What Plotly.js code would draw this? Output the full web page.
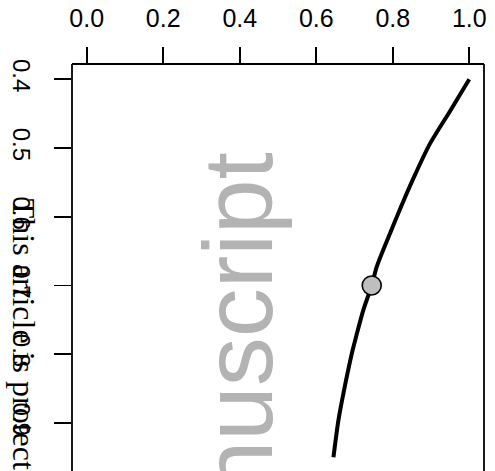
<!DOCTYPE html>
<html>
<head>
<meta charset="utf-8">
<script src="https://cdn.plot.ly/plotly-3.0.1.min.js"></script>
<style>
  html, body { margin: 0; padding: 0; background: #ffffff; }
  #chart { width: 495px; height: 471px; }
</style>
</head>
<body>
<div id="chart"></div>
<script>
// Curve: horizontal value against the (downward-increasing) vertical value
var curveX = [1.0, 0.950, 0.897, 0.859, 0.828, 0.793, 0.758, 0.745, 0.723, 0.704, 0.693, 0.671, 0.658, 0.645];
var curveY = [0.400, 0.446, 0.494, 0.538, 0.577, 0.624, 0.673, 0.700, 0.736, 0.775, 0.799, 0.857, 0.896, 0.950];

// Highlighted point on the curve
var pointX = [0.745];
var pointY = [0.700];

// Axis ticks
var xTickVals = [0.0, 0.2, 0.4, 0.6, 0.8, 1.0];
var xTickText = ['0.0', '0.2', '0.4', '0.6', '0.8', '1.0'];
var yTickVals = [0.4, 0.5, 0.6, 0.7, 0.8, 0.9];
var yTickText = ['0.4', '0.5', '0.6', '0.7', '0.8', '0.9'];

// Page texts
var watermarkText = 'Author Manuscript';
var noticeText = 'This article is protected by copyright. All rights reserved.';

var traces = [
  {
    x: curveX, y: curveY,
    type: 'scatter', mode: 'lines',
    line: { color: '#000000', width: 4, shape: 'spline', smoothing: 0.8 },
    hoverinfo: 'skip'
  },
  {
    x: pointX, y: pointY,
    type: 'scatter', mode: 'markers',
    marker: { size: 19, color: '#bebebe', line: { color: '#000000', width: 1.6 } },
    hoverinfo: 'skip'
  }
];

var frameLine = { color: '#000000', width: 1.8 };

var layout = {
  width: 495, height: 471,
  margin: { l: 72, r: 11, t: 64, b: 0, pad: 0 },
  paper_bgcolor: '#ffffff', plot_bgcolor: '#ffffff',
  showlegend: false,
  xaxis: {
    side: 'top',
    range: [-0.0385, 1.0385],
    tickmode: 'array', tickvals: xTickVals, ticktext: xTickText,
    ticks: 'outside', ticklen: 16, tickwidth: 1.8, tickcolor: '#000000',
    ticklabelstandoff: 10,
    tickfont: { family: 'Liberation Sans, Arial, sans-serif', size: 25, color: '#000000' },
    showgrid: false, zeroline: false, showline: false
  },
  yaxis: {
    range: [0.9701, 0.3777],
    tickmode: 'array', tickvals: yTickVals, ticktext: yTickText,
    tickangle: 90,
    ticks: 'outside', ticklen: 17, tickwidth: 1.8, tickcolor: '#000000',
    ticklabelstandoff: 12,
    tickfont: { family: 'Liberation Sans, Arial, sans-serif', size: 24, color: '#000000' },
    showgrid: false, zeroline: false, showline: false
  },
  shapes: [
    { type: 'line', xref: 'paper', yref: 'paper', x0: 0, x1: 0, y0: 0, y1: 1, line: frameLine },
    { type: 'line', xref: 'paper', yref: 'paper', x0: 0, x1: 1, y0: 1, y1: 1, line: frameLine },
    { type: 'line', xref: 'paper', yref: 'paper', x0: 1, x1: 1, y0: 0, y1: 1, line: frameLine }
  ],
  annotations: [
    {
      text: watermarkText,
      xref: 'x', yref: 'y', x: 0.395, y: 0.503,
      xanchor: 'center', yanchor: 'top',
      textangle: -90, showarrow: false,
      font: { family: 'Liberation Sans, Arial, sans-serif', size: 98, color: '#b3b3b3' }
    },
    {
      text: noticeText,
      xref: 'paper', yref: 'y', x: -0.116, y: 0.5713,
      xanchor: 'center', yanchor: 'top',
      textangle: 90, showarrow: false,
      font: { family: 'Liberation Serif, Times New Roman, serif', size: 32, color: '#000000' }
    }
  ]
};

Plotly.newPlot('chart', traces, layout, { staticPlot: true, displayModeBar: false });
</script>
</body>
</html>
